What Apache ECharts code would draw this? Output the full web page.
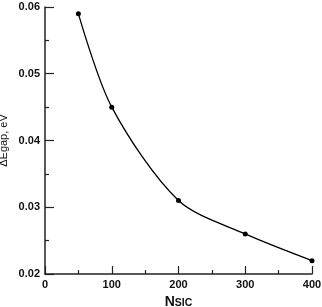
<!DOCTYPE html>
<html><head><meta charset="utf-8">
<script src="https://cdn.jsdelivr.net/npm/echarts@6/dist/echarts.min.js"></script>
<style>html,body{margin:0;padding:0;background:#fff}#c{width:322px;height:307px}</style>
</head><body><div id="c"></div>
<script>
const nValues = [50, 100, 200, 300, 400];
const gapValues = [0.059, 0.045, 0.031, 0.026, 0.022];
const xTicks = [0, 100, 200, 300, 400];
const yTicks = [0.02, 0.03, 0.04, 0.05, 0.06];

const chart = echarts.init(document.getElementById('c'));
const font = 'Liberation Sans, Arial, sans-serif';
const axisColor = '#222';
chart.setOption({
  animation: false,
  grid: {left: 45, right: 10, top: 7, bottom: 33, containLabel: false, outerBoundsMode: 'none'},
  xAxis: {
    type: 'value', min: xTicks[0], max: xTicks[xTicks.length-1], interval: 100,
    name: 'N{s|SIC}', nameLocation: 'middle', nameGap: 21, nameMoveOverlap: false,
    nameTextStyle: {fontFamily: font, fontWeight: 'bold', fontSize: 14, color: '#111',
      rich: {s: {fontFamily: font, fontWeight: 'bold', fontSize: 10.5, color: '#111', verticalAlign: 'bottom', padding:[3,0,0,0]}}},
    axisLine: {lineStyle: {color: axisColor, width: 1.5}},
    axisTick: {inside: true, length: 8, lineStyle: {color: axisColor, width: 1.2}},
    minorTick: {show: true, splitNumber: 2, length: 4, lineStyle: {color: axisColor, width: 1.2}},
    splitLine: {show: false},
    axisLabel: {fontFamily: font, fontWeight: 'bold', fontSize: 11, color: '#111', margin: 5}
  },
  yAxis: {
    type: 'value', min: yTicks[0], max: yTicks[yTicks.length-1], interval: 0.01,
    name: 'ΔE{s|gap}, eV', nameLocation: 'middle', nameGap: 36, nameRotate: 90, nameMoveOverlap: false,
    nameTextStyle: {fontFamily: font, fontSize: 11, color: '#111',
      rich: {s: {fontFamily: font, fontSize: 11, color: '#111'}}},
    axisLine: {show: true, lineStyle: {color: axisColor, width: 1.5}},
    axisTick: {show: true, inside: true, length: 9, lineStyle: {color: axisColor, width: 1.2}},
    minorTick: {show: true, splitNumber: 2, length: 4, lineStyle: {color: axisColor, width: 1.2}},
    splitLine: {show: false},
    axisLabel: {fontFamily: font, fontWeight: 'bold', fontSize: 11, color: '#111', margin: 5,
      formatter: v => v.toFixed(2)}
  },
  series: [{
    type: 'line', smooth: 0.3,
    data: nValues.map((n, i) => [n, gapValues[i]]),
    symbol: 'circle', symbolSize: 5,
    itemStyle: {color: '#000'},
    lineStyle: {color: '#000', width: 1.3}
  }]
});
</script></body></html>
